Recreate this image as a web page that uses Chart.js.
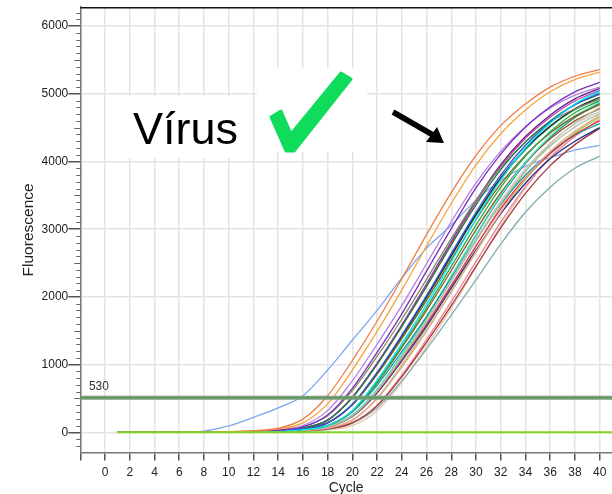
<!DOCTYPE html>
<html><head><meta charset="utf-8">
<script src="https://cdn.jsdelivr.net/npm/chart.js@4.4.1/dist/chart.umd.min.js"></script>
<style>
html,body{margin:0;padding:0;background:#fff;overflow:hidden;width:612px;height:494px}
canvas{display:block}
</style>
</head><body>
<canvas id="c" width="612" height="494"></canvas>
<script>
// ---- data ----
const cycles = [1,6,8,10,12,14,16,18,20,22,24,26,28,30,32,34,36,38,40];
const xTickValues = [-2,0,2,4,6,8,10,12,14,16,18,20,22,24,26,28,30,32,34,36,38,40];
const xTickLabels = ['','0','2','4','6','8','10','12','14','16','18','20','22','24','26','28','30','32','34','36','38','40'];
const yTickValues = [0,1000,2000,3000,4000,5000,6000];
const yTickLabels = ['0','1000','2000','3000','4000','5000','6000'];
const thresholdValue = 510;
const thresholdCycles = [-2,41];
const channelLabel = '530';
const negCycles = [1,41];
const negValues = [0,0];
const annotationText = 'Vírus';

const sA = [0,0,3,9,24,60,195,540,1060,1640,2270,2920,3540,4090,4530,4850,5100,5260,5360];
const sB = [0,0,2,7,19,49,140,420,920,1490,2100,2750,3380,3950,4410,4760,5030,5210,5320];
const sC = [0,0,1,4,12,31,80,255,650,1180,1750,2380,3010,3610,4110,4510,4810,5030,5170];
const sD = [0,0,1,5,15,38,100,320,760,1300,1870,2490,3110,3680,4150,4510,4790,4980,5100];
const sE = [0,0,0,2,5,15,38,100,320,770,1310,1890,2520,3150,3730,4200,4570,4850,5040];
const sF = [0,0,0,2,7,19,49,140,415,885,1435,2020,2640,3250,3800,4240,4580,4840,5010];
const sG = [0,0,1,3,9,24,60,180,510,1000,1560,2150,2770,3360,3880,4290,4600,4840,4990];
const sH = [0,0,1,4,12,31,80,245,615,1120,1670,2260,2860,3430,3910,4290,4580,4780,4920];
const sI = [0,0,0,2,5,15,38,100,315,745,1275,1840,2450,3060,3620,4080,4440,4720,4900];
const sJ = [0,0,0,2,7,19,49,140,405,855,1385,1950,2550,3140,3670,4095,4420,4670,4840];
const sK = [0,0,0,2,7,19,49,140,410,875,1420,2000,2610,3215,3760,4190,4525,4780,4950];
const sL = [0,0,0,2,4,12,31,80,245,610,1100,1640,2230,2820,3380,3860,4230,4510,4710];
const sM = [0,0,0,1,3,9,24,60,180,500,970,1500,2080,2670,3250,3750,4150,4450,4670];
const sN = [0,0,0,2,4,12,31,80,245,615,1115,1660,2250,2850,3415,3895,4270,4555,4740];
const sO = [0,0,0,2,4,12,31,78,240,595,1080,1600,2170,2750,3300,3760,4120,4400,4600];
const sP = [0,0,0,2,5,15,37,95,300,695,1190,1710,2280,2850,3370,3800,4130,4390,4560];
const sQ = [0,0,0,2,4,11,29,76,232,580,1055,1570,2130,2690,3230,3680,4040,4300,4500];
const sR = [0,0,0,0,2,7,19,49,140,390,820,1330,1870,2450,3020,3530,3940,4250,4490];
const sS = [0,0,0,0,2,7,18,45,135,360,760,1230,1730,2250,2780,3250,3620,3900,4080];
const sT = [0,0,0,1,3,9,24,60,180,505,995,1545,2135,2745,3335,3855,4260,4565,4800];
const sU = [0,0,0,2,4,12,31,80,250,630,1140,1700,2305,2920,3500,3990,4375,4670,4880];
const sV = [0,0,1,3,9,24,60,180,515,1015,1575,2180,2800,3400,3930,4345,4655,4895,5050];
const sW = [0,0,0,2,5,15,38,100,310,730,1250,1800,2390,2990,3535,3985,4335,4600,4780];
const sX = [0,0,0,2,4,12,31,80,250,630,1140,1695,2300,2910,3485,3975,4360,4650,4860];
const sY = [0,0,0,1,3,9,24,60,180,495,965,1495,2070,2660,3230,3735,4125,4420,4650];
const sZ = [0,0,0,0,2,7,19,49,140,400,845,1370,1930,2520,3105,3630,4050,4370,4620];
const sAA = [0,0,0,2,7,19,49,140,410,870,1410,1990,2600,3200,3745,4175,4510,4765,4930];
const sAB = [0,0,1,3,9,24,60,180,520,1020,1585,2190,2815,3420,3955,4370,4685,4925,5080];
const sAC = [0,0,0,0,2,5,15,38,100,315,740,1270,1830,2440,3050,3610,4070,4425,4700];
const sBlue = [0,0,18,95,220,360,540,920,1360,1800,2280,2720,3060,3430,3720,3930,4060,4170,4240];

// ---- styling ----
const curves = [
  [sA,'#ee7d45'],[sB,'#f9a23c'],[sC,'#7a2fc0'],[sD,'#b57fe0'],[sE,'#00e4ee'],
  [sF,'#3454dc'],[sG,'#1f7a3e'],[sH,'#7d8c64'],[sI,'#2fa84c'],[sJ,'#7a6414'],
  [sK,'#222222'],[sL,'#a9c19a'],[sM,'#f2a38c'],[sN,'#c6c6c6'],[sO,'#e0304e'],
  [sP,'#139e9a'],[sQ,'#252e8c'],[sR,'#a33a3a'],[sS,'#7fadad'],[sT,'#c9b98a'],
  [sU,'#3ef0c8'],[sV,'#c23fae'],[sW,'#8b5a2b'],[sX,'#4f6272'],[sY,'#8fdc4a'],
  [sZ,'#f07c9c'],[sAA,'#3cb371'],[sAB,'#5e1f86'],[sAC,'#e6c6a6'],[sBlue,'#7ea6ef']
];
const FONT = "'Liberation Sans', Arial, sans-serif";

const toPts = (xs, ys) => xs.map((c,i)=>({x:c, y:ys[i]}));
const datasets = [
  {data: thresholdCycles.map(c=>({x:c,y:thresholdValue})), borderColor:'#4fa84f', borderWidth:1.5, pointRadius:0},
  {data: thresholdCycles.map(c=>({x:c,y:thresholdValue})), borderColor:'#8a9488', borderWidth:4, pointRadius:0},
  {data: toPts(negCycles, negValues), borderColor:'#7fd627', borderWidth:2, pointRadius:0},
  ...curves.map(([vals,col])=>({data: toPts(cycles, vals), borderColor: col, borderWidth:1.3, pointRadius:0, cubicInterpolationMode:'monotone'}))
];

const deco = {
  id:'deco',
  afterDraw(chart){
    const {ctx, chartArea:a, scales:{x,y}} = chart;
    ctx.save();
    ctx.strokeStyle='#111'; ctx.lineWidth=1.5;
    ctx.beginPath(); ctx.moveTo(a.left, a.top+0.5); ctx.lineTo(a.right, a.top+0.5); ctx.stroke();
    ctx.strokeStyle='#666'; ctx.lineWidth=1;
    for (let v=-200; v<=6200; v+=100){
      if (v%1000===0) continue;
      const py = Math.round(y.getPixelForValue(v))+0.5;
      const len = (v%500===0)?6:4;
      ctx.beginPath(); ctx.moveTo(a.left-len, py); ctx.lineTo(a.left, py); ctx.stroke();
    }
    ctx.fillStyle='#333'; ctx.font='12px '+FONT; ctx.textBaseline='middle'; ctx.textAlign='left';
    ctx.fillText(channelLabel, x.getPixelForValue(-1.3), y.getPixelForValue(thresholdValue)-11);
    ctx.fillStyle='#fff';
    ctx.fillRect(114, 96, 137, 62);
    ctx.fillRect(257, 68, 110, 84);
    ctx.fillStyle='#000'; ctx.font='45px '+FONT; ctx.textBaseline='alphabetic';
    ctx.fillText(annotationText, 133, 144);
    ctx.fillStyle='#10dc5c';
    ctx.beginPath();
    ctx.moveTo(271,117); ctx.lineTo(281,111); ctx.lineTo(291,134); ctx.lineTo(341,73);
    ctx.lineTo(351,79); ctx.lineTo(294,151); ctx.lineTo(286,151); ctx.closePath(); ctx.fill();
    ctx.strokeStyle='#10dc5c'; ctx.lineWidth=3; ctx.lineJoin='round'; ctx.stroke();
    ctx.strokeStyle='#000'; ctx.lineWidth=5.5; ctx.lineCap='butt';
    ctx.beginPath(); ctx.moveTo(393,112); ctx.lineTo(433,135); ctx.stroke();
    ctx.fillStyle='#000';
    ctx.beginPath(); ctx.moveTo(444,143); ctx.lineTo(426,142); ctx.lineTo(437,127); ctx.closePath(); ctx.fill();
    ctx.restore();
  }
};

new Chart(document.getElementById('c'), {
  type:'line',
  data:{datasets},
  plugins:[deco],
  options:{
    responsive:false, animation:false, events:[],
    layout:{padding:{left:15, top:7, right:0, bottom:-1}},
    plugins:{legend:{display:false}, tooltip:{enabled:false}},
    elements:{line:{tension:0}},
    scales:{
      x:{type:'linear', min:-2, max:41,
        afterBuildTicks:s=>{s.ticks = xTickValues.map(v=>({value:v}));},
        ticks:{autoSkip:false, maxRotation:0, padding:5, color:'#222', font:{family:FONT,size:12},
          callback:(v,i)=>xTickLabels[i]},
        grid:{color:'#e3e3e3', lineWidth:1.5, tickColor:'#555', tickLength:8},
        border:{color:'#777', width:1.5},
        title:{display:true, text:'Cycle', color:'#222', font:{family:FONT,size:14,lineHeight:1.0}, padding:{top:-4,bottom:0}}
      },
      y:{type:'linear', min:-300, max:6280,
        afterBuildTicks:s=>{s.ticks = yTickValues.map(v=>({value:v}));},
        ticks:{autoSkip:false, padding:0, color:'#222', font:{family:FONT,size:12},
          callback:(v,i)=>yTickLabels[i]},
        grid:{color:'#e3e3e3', lineWidth:1.5, tickColor:'#555', tickLength:12},
        border:{color:'#777', width:1.5},
        title:{display:true, text:'Fluorescence', color:'#222', font:{family:FONT,size:15.5}, padding:{top:4,bottom:4}}
      }
    }
  }
});
</script>
</body></html>
